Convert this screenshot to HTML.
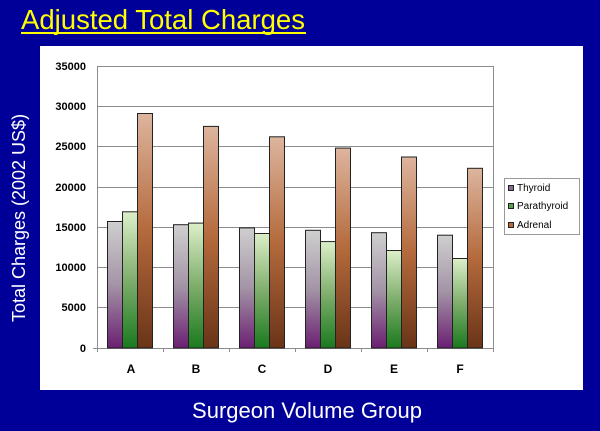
<!DOCTYPE html>
<html><head><style>
body{margin:0;background:#000099;}
svg{display:block;font-family:"Liberation Sans",Arial,sans-serif;}
</style></head><body>
<svg width="600" height="431" xmlns="http://www.w3.org/2000/svg">
<defs>
<linearGradient id="gt" x1="0" y1="0" x2="0" y2="1"><stop offset="0" stop-color="#cfcfcf"/><stop offset="0.5" stop-color="#a394a6"/><stop offset="1" stop-color="#6b1f72"/></linearGradient>
<linearGradient id="gp" x1="0" y1="0" x2="0" y2="1"><stop offset="0" stop-color="#dcefc8"/><stop offset="0.5" stop-color="#7fae6c"/><stop offset="1" stop-color="#1a7a1e"/></linearGradient>
<linearGradient id="ga" x1="0" y1="0" x2="0" y2="1"><stop offset="0" stop-color="#ddb59e"/><stop offset="0.5" stop-color="#b46a3c"/><stop offset="1" stop-color="#6a3418"/></linearGradient>
</defs>
<rect width="600" height="431" fill="#000099"/>
<text x="21" y="29" font-size="27.5" fill="#ffff00" textLength="284" lengthAdjust="spacingAndGlyphs">Adjusted Total Charges</text>
<rect x="21" y="32" width="285" height="2" fill="#ffff00"/>
<rect x="40" y="46" width="543" height="344" fill="#ffffff"/>
<g stroke="#8c8c8c" stroke-width="1">
<line x1="97" y1="66.5" x2="493" y2="66.5"/><line x1="97" y1="106.5" x2="493" y2="106.5"/><line x1="97" y1="146.5" x2="493" y2="146.5"/><line x1="97" y1="187.5" x2="493" y2="187.5"/><line x1="97" y1="227.5" x2="493" y2="227.5"/><line x1="97" y1="267.5" x2="493" y2="267.5"/><line x1="97" y1="307.5" x2="493" y2="307.5"/>
<line x1="97.5" y1="66" x2="97.5" y2="348"/><line x1="493.5" y1="66" x2="493.5" y2="348"/>
<line x1="93" y1="348.5" x2="493" y2="348.5"/>
<line x1="163.5" y1="348" x2="163.5" y2="352"/><line x1="229.5" y1="348" x2="229.5" y2="352"/><line x1="295.5" y1="348" x2="295.5" y2="352"/><line x1="361.5" y1="348" x2="361.5" y2="352"/><line x1="427.5" y1="348" x2="427.5" y2="352"/><line x1="97.5" y1="348" x2="97.5" y2="352"/><line x1="493.5" y1="348" x2="493.5" y2="352"/>
</g>
<g font-size="11" font-weight="bold" fill="#000" text-anchor="end">
<text x="86" y="70">35000</text><text x="86" y="110">30000</text><text x="86" y="150">25000</text><text x="86" y="191">20000</text><text x="86" y="231">15000</text><text x="86" y="271">10000</text><text x="86" y="311">5000</text><text x="86" y="352">0</text>
</g>
<g font-size="12" font-weight="bold" fill="#000" text-anchor="middle">
<text x="131" y="373">A</text><text x="196" y="373">B</text><text x="262" y="373">C</text><text x="328" y="373">D</text><text x="394" y="373">E</text><text x="460" y="373">F</text>
</g>
<g stroke="#222" stroke-width="1">
<rect x="107.5" y="221.5" width="15" height="126.5" fill="url(#gt)"/><rect x="122.5" y="211.8" width="15" height="136.2" fill="url(#gp)"/><rect x="137.5" y="113.5" width="15" height="234.5" fill="url(#ga)"/>
<rect x="173.5" y="224.7" width="15" height="123.3" fill="url(#gt)"/><rect x="188.5" y="223.1" width="15" height="124.9" fill="url(#gp)"/><rect x="203.5" y="126.4" width="15" height="221.6" fill="url(#ga)"/>
<rect x="239.5" y="227.9" width="15" height="120.1" fill="url(#gt)"/><rect x="254.5" y="233.5" width="15" height="114.5" fill="url(#gp)"/><rect x="269.5" y="136.8" width="15" height="211.2" fill="url(#ga)"/>
<rect x="305.5" y="230.3" width="15" height="117.7" fill="url(#gt)"/><rect x="320.5" y="241.6" width="15" height="106.4" fill="url(#gp)"/><rect x="335.5" y="148.1" width="15" height="199.9" fill="url(#ga)"/>
<rect x="371.5" y="232.7" width="15" height="115.3" fill="url(#gt)"/><rect x="386.5" y="250.5" width="15" height="97.5" fill="url(#gp)"/><rect x="401.5" y="157" width="15" height="191" fill="url(#ga)"/>
<rect x="437.5" y="235.2" width="15" height="112.8" fill="url(#gt)"/><rect x="452.5" y="258.5" width="15" height="89.5" fill="url(#gp)"/><rect x="467.5" y="168.3" width="15" height="179.7" fill="url(#ga)"/>
</g>
<rect x="504.5" y="178.5" width="75" height="56" fill="#fff" stroke="#999"/>
<g stroke="#222"><rect x="508.5" y="185.5" width="5" height="5" fill="#8a6a90"/><rect x="508.5" y="203.5" width="5" height="5" fill="#5aa050"/><rect x="508.5" y="222.5" width="5" height="5" fill="#b8683a"/></g>
<g font-size="10" fill="#000"><text x="517" y="191">Thyroid</text><text x="517" y="209">Parathyroid</text><text x="517" y="228">Adrenal</text></g>
<text transform="translate(25,218) rotate(-90)" font-size="18" fill="#fff" text-anchor="middle">Total Charges (2002 US$)</text>
<text x="307" y="418" font-size="22" fill="#fff" text-anchor="middle">Surgeon Volume Group</text>
</svg>
</body></html>
